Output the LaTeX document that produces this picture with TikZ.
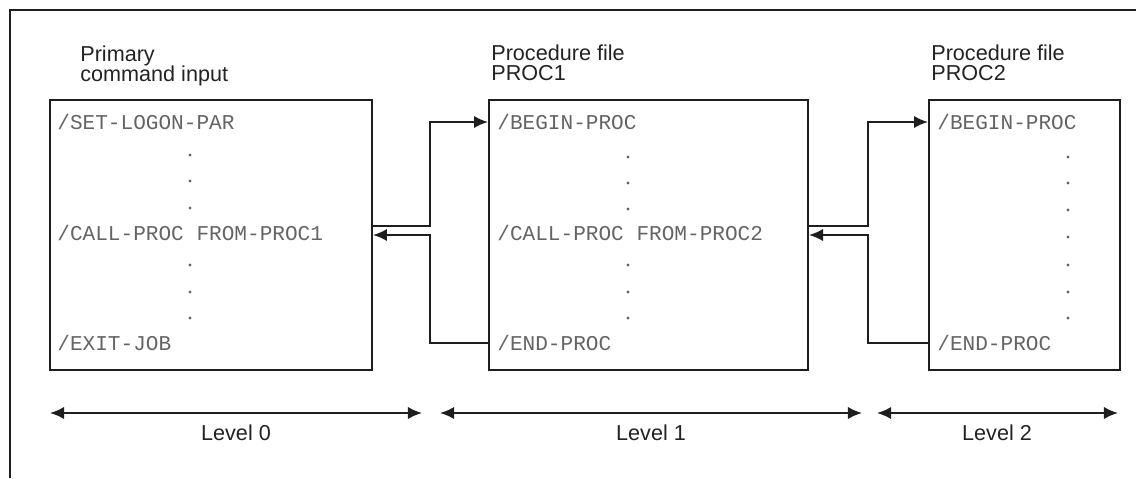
\documentclass[tikz,border=0pt]{standalone}
\usepackage{fontspec}
\setmainfont{Liberation Sans}
\setmonofont{Liberation Mono}
\usetikzlibrary{arrows.meta, positioning, calc}
\definecolor{framegray}{RGB}{30,30,30}
\definecolor{codegray}{RGB}{100,100,100}
\definecolor{titlegray}{RGB}{35,35,35}

\tikzset{
  procbox/.style={draw=framegray, line width=1.1pt, minimum height=5.4cm, inner sep=0pt},
  cmd/.style={anchor=west, inner sep=0pt, text=codegray, font=\fontsize{12}{14}\ttfamily},
  boxtitle/.style={anchor=west, inner sep=0pt, align=left, text=titlegray,
                   font=\fontsize{12.3}{11.5}\selectfont},
  conn/.style={draw=framegray, line width=1.1pt, -{Latex[length=8pt,width=7pt]}},
  levelarrow/.style={draw=framegray, line width=1.1pt,
                     {Latex[length=8pt,width=7pt]}-{Latex[length=8pt,width=7pt]}},
  levellabel/.style={text=titlegray, font=\fontsize{12.3}{14}\selectfont},
}

\begin{document}
\begin{tikzpicture}[x=0.02cm, y=-0.02cm]
  \useasboundingbox (0,0) rectangle (1136,478);
  % outer frame (open at right and bottom)
  \draw[framegray, line width=1.2pt] (10,478) -- (10,10) -- (1136,10);

  % boxes
  \node[procbox, minimum width=6.44cm] (box0) at (211,235) {};
  \node[procbox, minimum width=6.38cm] (box1) at (648.5,235) {};
  \node[procbox, minimum width=3.82cm] (box2) at (1024.5,235) {};

  % titles
  \node[boxtitle] (title0) at (80,66) {Primary\\command input};
  \node[boxtitle] (title1) at (491,63) {Procedure file\\PROC1};
  \node[boxtitle] (title2) at (931,63) {Procedure file\\PROC2};

  % level 0 commands
  \node[cmd] (set0) at (57,122) {/SET-LOGON-PAR};
  \node[cmd] (call0) at (57,233) {/CALL-PROC FROM-PROC1};
  \node[cmd] (exit0) at (57,343) {/EXIT-JOB};
  \foreach \y in {155,181,208,265,292,318}
    \fill[codegray] (190,\y) circle (0.9pt);

  % level 1 commands
  \node[cmd] (begin1) at (497,122) {/BEGIN-PROC};
  \node[cmd] (call1) at (497,233) {/CALL-PROC FROM-PROC2};
  \node[cmd] (end1) at (497,343) {/END-PROC};
  \foreach \y in {157,183,209,265,292,318}
    \fill[codegray] (628,\y) circle (0.9pt);

  % level 2 commands
  \node[cmd] (begin2) at (937,122) {/BEGIN-PROC};
  \node[cmd] (end2) at (937,343) {/END-PROC};
  \foreach \y in {157,183,210,237,265,292,318}
    \fill[codegray] (1068,\y) circle (0.9pt);

  % calls and returns
  \draw[conn] (box0.east |- 0,226) -- (430,226) |- (box1.west |- begin1);
  \draw[conn] (box1.west |- end1) -| (430,235) -- (box0.east |- 0,235);
  \draw[conn] (box1.east |- 0,226) -- (868,226) |- (box2.west |- begin2);
  \draw[conn] (box2.west |- end2) -| (868,235) -- (box1.east |- 0,235);

  % levels
  \coordinate (l0a) at (50,413);  \coordinate (l0b) at (422,413);
  \coordinate (l1a) at (440,413); \coordinate (l1b) at (862,413);
  \coordinate (l2a) at (877,413); \coordinate (l2b) at (1118,413);
  \draw[levelarrow] (l0a) -- (l0b);
  \draw[levelarrow] (l1a) -- (l1b);
  \draw[levelarrow] (l2a) -- (l2b);
  \node[levellabel] (lv0) at (236,433) {Level 0};
  \node[levellabel] (lv1) at (651,433) {Level 1};
  \node[levellabel] (lv2) at (997,433) {Level 2};
\end{tikzpicture}
\end{document}
